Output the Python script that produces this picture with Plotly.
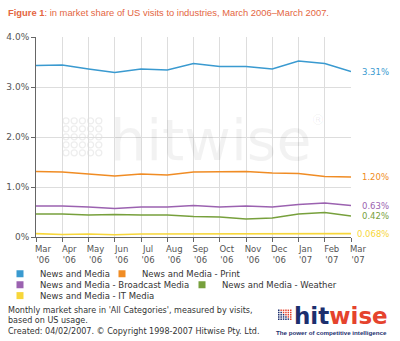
import plotly.graph_objects as go

months = ["Mar<br>'06", "Apr<br>'06", "May<br>'06", "Jun<br>'06", "Jul<br>'06", "Aug<br>'06", "Sep<br>'06",
          "Oct<br>'06", "Nov<br>'06", "Dec<br>'06", "Jan<br>'07", "Feb<br>'07", "Mar<br>'07"]
news_media = [3.43, 3.44, 3.36, 3.29, 3.36, 3.34, 3.47, 3.41, 3.41, 3.36, 3.52, 3.47, 3.31]
print_ = [1.31, 1.30, 1.26, 1.22, 1.26, 1.24, 1.30, 1.30, 1.31, 1.28, 1.27, 1.21, 1.20]
broadcast = [0.62, 0.62, 0.60, 0.57, 0.60, 0.60, 0.63, 0.60, 0.62, 0.60, 0.65, 0.68, 0.63]
weather = [0.46, 0.46, 0.44, 0.45, 0.44, 0.44, 0.41, 0.40, 0.36, 0.38, 0.46, 0.49, 0.42]
it_media = [0.068, 0.05, 0.06, 0.045, 0.06, 0.06, 0.065, 0.068, 0.068, 0.068, 0.068, 0.068, 0.068]
end_labels = ["3.31%", "1.20%", "0.63%", "0.42%", "0.068%"]
names = ["News and Media", "News and Media - Print", "News and Media - Broadcast Media",
         "News and Media - Weather", "News and Media - IT Media"]
colors = ["#3a9ad0", "#f08c24", "#9b62b0", "#77a03c", "#f7d63a"]
legend_ids = ["legend", "legend2", "legend3", "legend4", "legend5"]
y_ticks = [0, 1, 2, 3, 4]
y_ticktext = ["0%", "1.0%", "2.0%", "3.0%", "4.0%"]

series = [news_media, print_, broadcast, weather, it_media]
FONT = "DejaVu Sans"

# plot area in pixels
L, R, T, B = 36, 351, 37, 237.3


def px(x):
    return (x - L) / (R - L)


def py(y):
    return (B - y) / (B - T)


fig = go.Figure()
for name, vals, col, lab, lg in zip(names, series, colors, end_labels, legend_ids):
    fig.add_trace(go.Scatter(x=list(range(len(months))), y=vals, mode="lines", name=name,
                             line=dict(color=col, width=1.6), showlegend=False, hoverinfo="skip"))
    fig.add_trace(go.Scatter(x=[None], y=[None], mode="markers", name=name, legend=lg,
                             marker=dict(symbol="square", size=7, color=col)))
    fig.add_annotation(x=px(391), xref="paper", y=vals[-1], yref="y", text=lab, showarrow=False,
                       xanchor="right", yanchor="middle", font=dict(family=FONT, size=8.5, color=col))

# watermark
fig.add_annotation(x=px(211), xref="paper", y=py(140), yref="paper", text="hitwise",
                   showarrow=False,
                   font=dict(family="DejaVu Sans", size=57, color="rgba(0,0,0,0.05)"),
                   xanchor="center", yanchor="middle")
fig.add_annotation(x=px(318), xref="paper", y=py(120), yref="paper", text="®",
                   showarrow=False,
                   font=dict(family="DejaVu Sans", size=14, color="rgba(0,0,0,0.07)"),
                   xanchor="center", yanchor="middle")
for i in range(5):
    for j in range(5):
        cx, cy = 66 + i * 8.2, 121 + j * 8
        fig.add_shape(type="circle", xref="paper", yref="paper",
                      x0=px(cx - 3), x1=px(cx + 3), y0=py(cy + 3), y1=py(cy - 3),
                      line=dict(color="rgba(0,0,0,0.07)", width=1.3), layer="below")

# title
fig.add_annotation(x=px(6), xref="paper", y=py(12), yref="paper",
                   text="<b>Figure 1</b>: in market share of US visits to industries, March 2006\u2013March 2007.",
                   showarrow=False, xanchor="left", yanchor="middle",
                   font=dict(family="Liberation Sans", size=9.4, color="#e4663f"))
# footer
fig.add_annotation(x=px(6), xref="paper", y=py(304), yref="paper",
                   text="Monthly market share in 'All Categories', measured by visits,<br>based on US usage.<br>"
                        "Created: 04/02/2007. \u00a9 Copyright 1998-2007 Hitwise Pty. Ltd.",
                   showarrow=False, xanchor="left", yanchor="top", align="left",
                   font=dict(family=FONT, size=8.05, color="#333333"))
# logo
fig.add_annotation(x=px(390), xref="paper", y=py(316), yref="paper",
                   text="<b><span style='color:#1c2f6e'>hit</span><span style='color:#e5432d'>wise</span></b>",
                   showarrow=False, xanchor="right", yanchor="middle",
                   font=dict(family="DejaVu Sans", size=23))
fig.add_annotation(x=px(389), xref="paper", y=py(333), yref="paper",
                   text="<b>The power of competitive intelligence</b>",
                   showarrow=False, xanchor="right", yanchor="middle",
                   font=dict(family="Liberation Sans", size=6.2, color="#1c2f6e"))
for i in range(6):
    for j in range(5):
        x0 = 278 + i * 2.4
        y0 = 310 + j * 2.2
        fig.add_shape(type="rect", xref="paper", yref="paper",
                      x0=px(x0), x1=px(x0 + 1.5), y0=py(y0 + 1.5), y1=py(y0),
                      fillcolor="#1c2f6e" if (i + (4 - j)) < 5 else "#e5432d", line=dict(width=0))

leg_common = dict(orientation="h", xanchor="left", yanchor="middle", bgcolor="rgba(0,0,0,0)",
                  font=dict(family=FONT, size=8.5, color="#333333"), itemwidth=30,
                  tracegroupgap=0, traceorder="normal", borderwidth=0)
fig.update_layout(
    width=400, height=341,
    margin=dict(l=L, r=400 - R, t=T, b=341 - B, autoexpand=False),
    paper_bgcolor="white", plot_bgcolor="white",
    font=dict(family=FONT, size=9, color="#555555"),
    xaxis=dict(range=[0, 12], tickmode="array", tickvals=list(range(len(months))), ticktext=months,
               showgrid=True, gridcolor="#dddddd", gridwidth=1, zeroline=False,
               showline=True, linecolor="#666666", linewidth=1, ticks="outside", ticklen=4,
               tickcolor="#666666", ticklabelshift=7,
               tickfont=dict(family=FONT, size=8.5, color="#555555")),
    yaxis=dict(range=[0, 4], tickmode="array", tickvals=y_ticks, ticktext=y_ticktext,
               showgrid=True, gridcolor="#dddddd", gridwidth=1, zeroline=False,
               showline=True, linecolor="#666666", linewidth=1, ticks="outside", ticklen=4,
               tickcolor="#666666", tickfont=dict(family=FONT, size=9, color="#555555")),
    legend=dict(x=px(0), y=py(274), **leg_common),
    legend2=dict(x=px(102), y=py(274), **leg_common),
    legend3=dict(x=px(0), y=py(285), **leg_common),
    legend4=dict(x=px(182), y=py(285), **leg_common),
    legend5=dict(x=px(0), y=py(296), **leg_common),
)
fig.write_html("out.html")
